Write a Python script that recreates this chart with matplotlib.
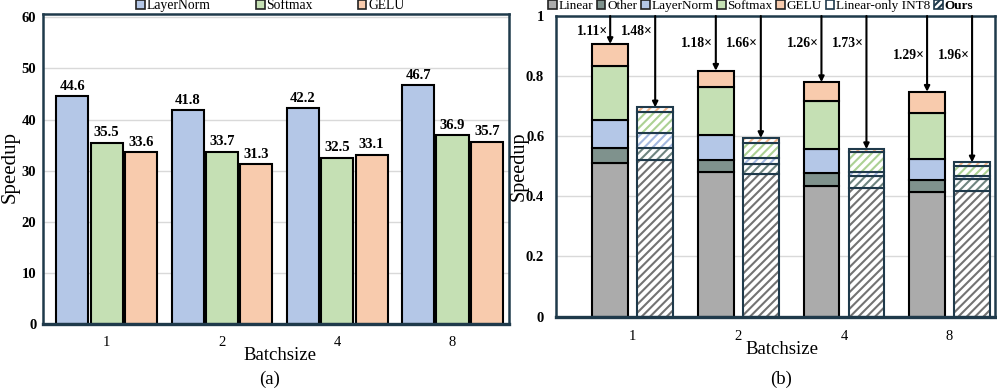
import numpy as np
import matplotlib as mpl
mpl.use("Agg")
from matplotlib import pyplot as plt
from matplotlib.patches import Patch

plt.rcParams["font.family"] = ["Liberation Serif", "DejaVu Serif"]
plt.rcParams["hatch.linewidth"] = 1.5

# ---- data: (a) speedup of nonlinear ops
batch_labels = ["1", "2", "4", "8"]
ops_a = ["LayerNorm", "Softmax", "GELU"]
speedup_layernorm = [44.6, 41.8, 42.2, 46.7]
speedup_softmax = [35.5, 33.7, 32.5, 36.9]
speedup_gelu = [33.6, 31.3, 33.1, 35.7]

# ---- data: (b) normalized latency breakdown
parts_b = ["Linear", "Other", "LayerNorm", "Softmax", "GELU"]
int8_linear = [0.511, 0.482, 0.434, 0.413]
int8_other = [0.051, 0.038, 0.042, 0.040]
int8_layernorm = [0.091, 0.083, 0.080, 0.070]
int8_softmax = [0.181, 0.160, 0.161, 0.153]
int8_gelu = [0.073, 0.055, 0.063, 0.072]

ours_linear = [0.522, 0.473, 0.429, 0.418]
ours_other = [0.040, 0.036, 0.038, 0.038]
ours_layernorm = [0.049, 0.020, 0.015, 0.012]
ours_softmax = [0.068, 0.050, 0.064, 0.033]
ours_gelu = [0.017, 0.015, 0.011, 0.012]

speedup_int8 = ["1.11×", "1.18×", "1.26×", "1.29×"]
speedup_ours = ["1.48×", "1.66×", "1.73×", "1.96×"]
label_y = [0.948, 0.907, 0.907, 0.870]

# ---- style
C_LN = "#b4c7e7"
C_SM = "#c5e0b4"
C_GELU = "#f8cbad"
C_LIN = "#ababab"
C_OTH = "#7f928d"
FRAME = "#1f3a4b"
HATCH_COL = ["#737373", "#6f8580", "#a3b8e0", "#acd194", "#f4b88f"]

W, H = 997, 388
fig = plt.figure(figsize=(W / 100, H / 100), dpi=100)

def px_axes(x0, x1, ytop, ybot):
    return fig.add_axes([x0 / W, 1 - ybot / H, (x1 - x0) / W, (ybot - ytop) / H])

def style_frame(ax):
    for s in ax.spines.values():
        s.set_color(FRAME)
        s.set_linewidth(1.8)
    ax.spines["bottom"].set_linewidth(2.4)
    ax.set_axisbelow(True)
    ax.yaxis.grid(True, color="#d9d9d9", lw=1.0)
    ax.tick_params(length=0)

# ================= (a)
ax1 = px_axes(43.3, 509, 14, 324)
x = np.arange(len(batch_labels))
bw, step = 0.278, 0.298
series_a = [speedup_layernorm, speedup_softmax, speedup_gelu]
colors_a = [C_LN, C_SM, C_GELU]
for i, (vals, col) in enumerate(zip(series_a, colors_a)):
    bars = ax1.bar(x + (i - 1) * step, vals, bw, color=col, edgecolor="black", lw=1.5)
    for b, v in zip(bars, vals):
        ax1.annotate(f"{v:.1f}", (b.get_x() + b.get_width() / 2, v),
                     xytext=(0, 2.5), textcoords="offset points",
                     ha="center", va="bottom", fontsize=10.5, fontweight="bold")
ax1.set_xlim(-0.55, 3.49)
ax1.set_ylim(0, 60.65)
ax1.set_yticks(np.arange(0, 61, 10))
ax1.set_xticks(x, batch_labels)
style_frame(ax1)
ax1.tick_params(axis="y", pad=5, labelsize=10.5)
ax1.tick_params(axis="x", pad=8.5, labelsize=10.5)
for t in ax1.get_yticklabels():
    t.set_fontweight("bold")

handles_a = [Patch(facecolor=c, edgecolor="#222222", lw=1.2) for c in colors_a]
ax1.legend(handles_a, ops_a, loc="center left", bbox_to_anchor=(0.2, 1.026),
           ncol=3, frameon=False, fontsize=9.8, handlelength=0.65, handleheight=0.65,
           handletextpad=0.12, columnspacing=3.3, borderpad=0, borderaxespad=0)

fig.text(10 / W, 1 - 167 / H, "Speedup", rotation=90, ha="center", va="center", fontsize=15)
fig.text(280 / W, 1 - 355 / H, "Batchsize", ha="center", va="center", fontsize=13.5)
fig.text(270 / W, 1 - 379 / H, "(a)", ha="center", va="center", fontsize=13.5)

# ================= (b)
ax2 = px_axes(556, 995, 16, 316.5)
bw2, off = 0.336, 0.213
int8_parts = [int8_linear, int8_other, int8_layernorm, int8_softmax, int8_gelu]
ours_parts = [ours_linear, ours_other, ours_layernorm, ours_softmax, ours_gelu]
colors_b = [C_LIN, C_OTH, C_LN, C_SM, C_GELU]

bottom = np.zeros(len(batch_labels))
for vals, col in zip(int8_parts, colors_b):
    ax2.bar(x - off, vals, bw2, bottom=bottom, color=col, edgecolor="black", lw=1.5)
    bottom += np.array(vals)
int8_top = bottom.copy()

bottom = np.zeros(len(batch_labels))
for vals, hc in zip(ours_parts, HATCH_COL):
    ax2.bar(x + off, vals, bw2, bottom=bottom, color="white", edgecolor=hc,
            hatch="////", lw=0)
    ax2.bar(x + off, vals, bw2, bottom=bottom, fill=False, edgecolor=FRAME, lw=1.5)
    bottom += np.array(vals)
ours_top = bottom.copy()

# arrows + speedup labels
for i in range(len(batch_labels)):
    for xc, top, lab in [(x[i] - off, int8_top[i], speedup_int8[i]),
                         (x[i] + off, ours_top[i], speedup_ours[i])]:
        ax2.annotate("", xy=(xc, top), xytext=(xc, 1.0),
                     arrowprops=dict(arrowstyle="-|>", color="black", lw=1.5,
                                     mutation_scale=8, shrinkA=0, shrinkB=0))
        ax2.text(xc - 0.025, label_y[i], lab, ha="right", va="center",
                 fontsize=9.8, fontweight="bold")

ax2.set_xlim(-0.726, 3.43)
ax2.set_ylim(0, 1.0)
ax2.set_yticks(np.arange(0, 1.01, 0.2), ["0", "0.2", "0.4", "0.6", "0.8", "1"])
ax2.set_xticks(x, batch_labels)
style_frame(ax2)
ax2.tick_params(axis="y", pad=8.5, labelsize=10.5)
ax2.tick_params(axis="x", pad=10, labelsize=10.5)
for t in ax2.get_yticklabels():
    t.set_fontweight("bold")

handles_b = [Patch(facecolor=c, edgecolor="#222222", lw=1.2) for c in colors_b]
handles_b.append(Patch(facecolor="white", edgecolor=FRAME, lw=1.2))
handles_b.append(Patch(facecolor="white", edgecolor=FRAME, lw=1.2, hatch="/////"))
labels_b = parts_b + ["Linear-only INT8", "Ours"]
leg = ax2.legend(handles_b, labels_b, loc="center left", bbox_to_anchor=(-0.018, 1.033),
                 ncol=7, frameon=False, fontsize=9.5, handlelength=0.65, handleheight=0.65,
                 handletextpad=0.12, columnspacing=0.3, borderpad=0, borderaxespad=0)
leg.get_texts()[-1].set_fontweight("bold")

fig.text(519 / W, 1 - 166 / H, "Speedup", rotation=90, ha="center", va="center", fontsize=14.5)
fig.text(782 / W, 1 - 350 / H, "Batchsize", ha="center", va="center", fontsize=13.5)
fig.text(781 / W, 1 - 379 / H, "(b)", ha="center", va="center", fontsize=13.5)

fig.savefig("out.png", dpi=100)
plt.close(fig)
